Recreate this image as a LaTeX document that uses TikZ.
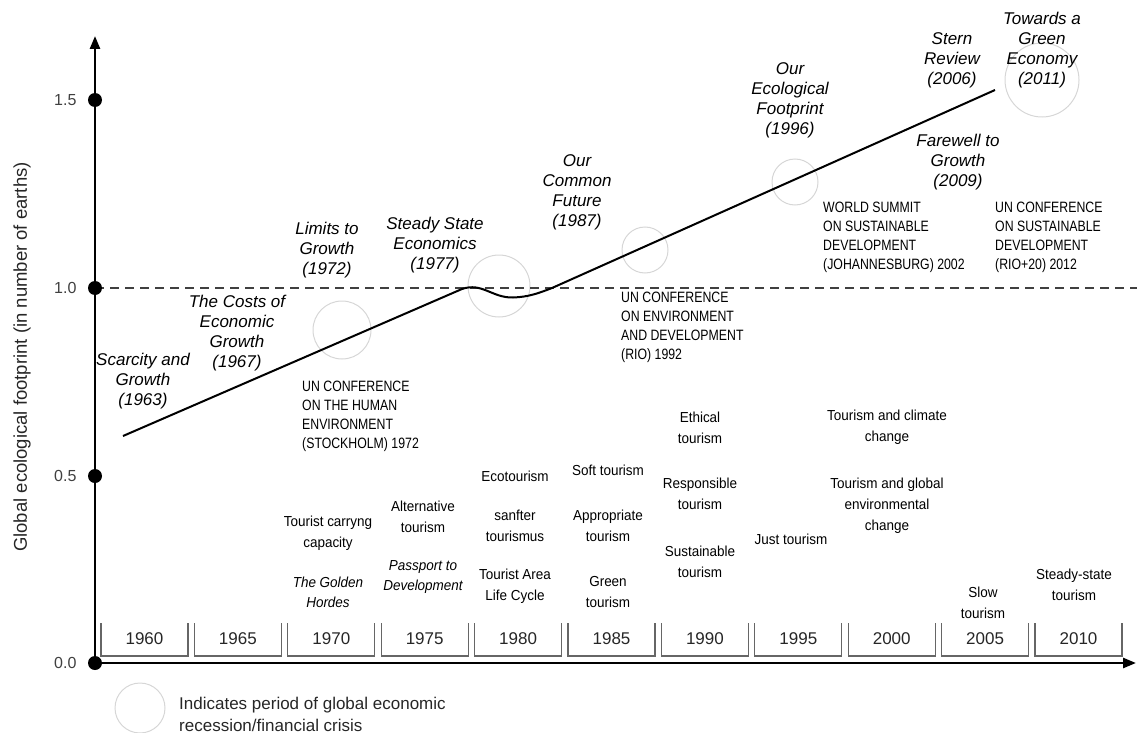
\documentclass[tikz,border=0pt]{standalone}
\usepackage{fontspec}
\setmainfont{Liberation Sans}
\newfontfamily\narrowfont[FakeStretch=0.82]{Liberation Sans}
\newfontfamily\trendfont[FakeStretch=0.93]{Liberation Sans}
\usepackage{tikz}
\usetikzlibrary{arrows.meta}
\tikzset{book/.style={font=\fontsize{17}{20}\selectfont\itshape, align=center, inner sep=0pt}}
\tikzset{conf/.style={font=\narrowfont\fontsize{15}{19}\selectfont, align=left, anchor=west, inner sep=0pt}}
\tikzset{trend/.style={font=\trendfont\fontsize{14.5}{21}\selectfont, align=center, inner sep=0pt}}
\tikzset{trendbook/.style={trend, font=\trendfont\fontsize{14.5}{20}\selectfont\itshape}}
\tikzset{crisis/.style={draw=black!16, line width=1pt}}
\tikzset{yearbox/.style={draw=black!60, line width=1.1pt}}
\tikzset{tickdot/.style={circle, fill=black, inner sep=0pt, minimum size=14pt}}

\begin{document}
\begin{tikzpicture}[x=1pt, y={(0pt,-1pt)}]
\useasboundingbox (0,0) rectangle (1137,733);

% crisis circles
\draw[crisis] (342,330) circle (29);
\draw[crisis] (499,286) circle (31);
\draw[crisis] (645,250) circle (23);
\draw[crisis] (795,182) circle (23);
\draw[crisis] (1042,80) circle (37);

% axes
\coordinate (O) at (95,663);
\coordinate (ytop) at (95,36);
\coordinate (xend) at (1136,663);
\coordinate (one) at (95,288);
\coordinate (oneend) at (1137,288);
\draw[dashed, dash pattern=on 9pt off 6pt, line width=1.2pt, black!75] (one) -- (oneend);
\draw[line width=2.5pt, -{Triangle[length=13pt,width=10pt]}] (O) -- (ytop);
\draw[line width=2.5pt, -{Triangle[length=13pt,width=10pt]}] (O) -- (xend);

	\foreach \v/\yy in {0.0/663,0.5/476,1.0/288,1.5/100}
	{
		\node[tickdot] (d\yy) at (95,\yy) {};
		\node[anchor=east, font=\fontsize{16}{16}\selectfont, black!75] (t\yy) at (80,\yy) {\v};
	}

\node[rotate=90, font=\fontsize{18.5}{18.5}\selectfont, black!85] (ylab) at (22,357) {Global ecological footprint (in number of earths)};

% year boxes
	\foreach \yr [count=\i from 0, evaluate=\i as \l using 101+93.4*\i, evaluate=\i as \r using 188+93.4*\i, evaluate=\i as \m using 144.5+93.4*\i] in {1960,1965,1970,1975,1980,1985,1990,1995,2000,2005,2010}
	{
		\draw[yearbox] (\l,623) |- (\r,656) -- (\r,623);
		\node[font=\fontsize{17}{17}\selectfont, black!85] (y\yr) at (\m,639) {\yr};
	}

% footprint line
\coordinate (p63) at (123,436);
\coordinate (p77) at (462,289);
\coordinate (p79) at (552,288);
\coordinate (p11) at (995,90);
\draw[line width=2pt] (p63) -- (p77) .. controls (482,282) and (492,298) .. (513,297.5) .. controls (528,297) and (538,293.5) .. (p79) -- (p11);

% publications
\node[book] (scarcity) at (143,381) {Scarcity and\\Growth\\(1963)};
\node[book] (costs) at (237,333) {The Costs of\\Economic\\Growth\\(1967)};
\node[book] (limits) at (327,250) {Limits to\\Growth\\(1972)};
\node[book] (steady) at (435,245) {Steady State\\Economics\\(1977)};
\node[book] (common) at (577,192) {Our\\Common\\Future\\(1987)};
\node[book] (footprint) at (790,100) {Our\\Ecological\\Footprint\\(1996)};
\node[book] (stern) at (952,60) {Stern\\Review\\(2006)};
\node[book] (greeneco) at (1042,50) {Towards a\\Green\\Economy\\(2011)};
\node[book] (farewell) at (958,162) {Farewell to\\Growth\\(2009)};

% conferences
\node[conf] (stockholm) at (302,416.5) {UN CONFERENCE\\ON THE HUMAN\\ENVIRONMENT\\(STOCKHOLM) 1972};
\node[conf] (rio) at (621,327.5) {UN CONFERENCE\\ON ENVIRONMENT\\AND DEVELOPMENT\\(RIO) 1992};
\node[conf] (joburg) at (823,237.5) {WORLD SUMMIT\\ON SUSTAINABLE\\DEVELOPMENT\\(JOHANNESBURG) 2002};
\node[conf] (riotwenty) at (995,237.5) {UN CONFERENCE\\ON SUSTAINABLE\\DEVELOPMENT\\(RIO+20) 2012};

% tourism concepts
\node[trend] (carrying) at (328,533.5) {Tourist carryng\\capacity};
\node[trendbook] (hordes) at (328,592.5) {The Golden\\Hordes};
\node[trend] (alternative) at (423,517) {Alternative\\tourism};
\node[trendbook] (passport) at (423,577) {Passport to\\Development};
\node[trend] (eco) at (515,476) {Ecotourism};
\node[trend] (sanfter) at (515,526) {sanfter\\tourismus};
\node[trend] (lifecycle) at (515,586) {Tourist Area\\Life Cycle};
\node[trend] (soft) at (608,470) {Soft tourism};
\node[trend] (appropriate) at (608,525.5) {Appropriate\\tourism};
\node[trend] (greentour) at (608,592.5) {Green\\tourism};
\node[trend] (ethical) at (700,427.5) {Ethical\\tourism};
\node[trend] (responsible) at (700,494) {Responsible\\tourism};
\node[trend] (sustainable) at (700,561.5) {Sustainable\\tourism};
\node[trend] (just) at (791,539) {Just tourism};
\node[trend] (climate) at (887,427) {Tourism and climate\\change};
\node[trend] (globalenv) at (887,505.5) {Tourism and global\\environmental\\change};
\node[trend] (slow) at (983,603) {Slow\\tourism};
\node[trend] (steadystate) at (1074,584.5) {Steady-state\\tourism};

% legend
\draw[crisis] (140,708) circle (25);
\node[anchor=west, align=left, inner sep=0pt, font=\fontsize{17}{22}\selectfont, black!85] (legend) at (179,714) {Indicates period of global economic\\recession/financial crisis};

\end{tikzpicture}
\end{document}
